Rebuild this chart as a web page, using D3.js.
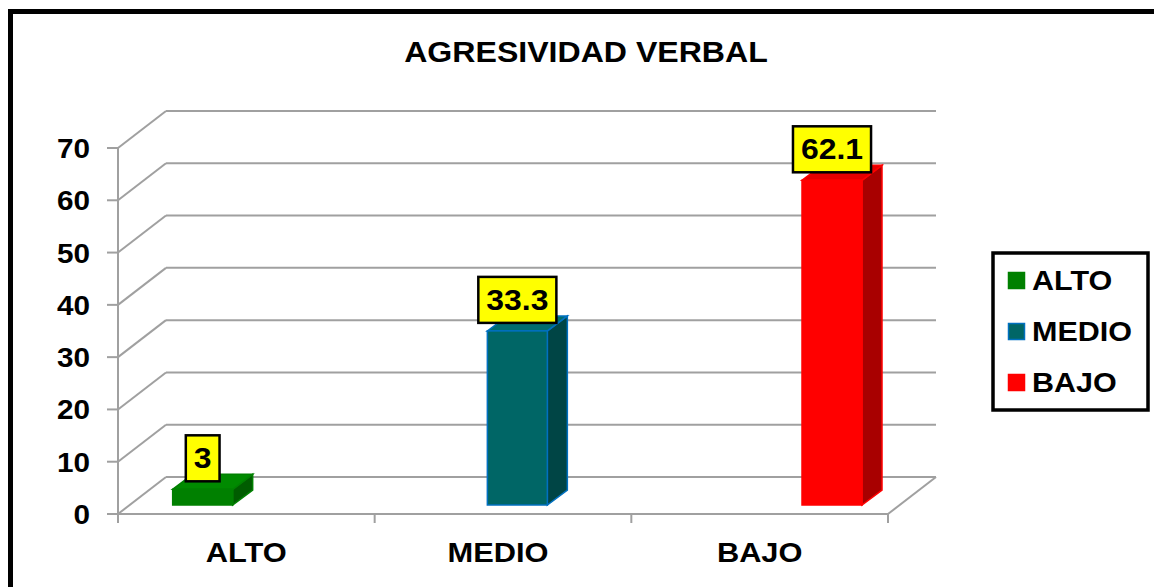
<!DOCTYPE html>
<html>
<head>
<meta charset="utf-8">
<script src="https://cdn.jsdelivr.net/npm/d3@7"></script>
<style>
  body { margin: 0; background: #fff; }
  text { font-family: Arial, "Liberation Sans", sans-serif; font-weight: bold; fill: #000; }
</style>
</head>
<body>
<svg id="chart" width="1154" height="587"></svg>
<script>
// data
const categories = ["ALTO", "MEDIO", "BAJO"];
const values = [3, 33.3, 62.1];
const yTicks = [0, 10, 20, 30, 40, 50, 60, 70];
const title = "AGRESIVIDAD VERBAL";

const frontCol = { ALTO: "#008000", MEDIO: "#006666", BAJO: "#ff0000" },
      sideCol  = { ALTO: "#005c00", MEDIO: "#004545", BAJO: "#a80000" },
      topCol   = { ALTO: "#008a00", MEDIO: "#006d6d", BAJO: "#e60000" },
      edgeCol  = { ALTO: "#008000", MEDIO: "#0070c0", BAJO: "#ff0000" };

const svg = d3.select("#chart");

// text in the picture is a bit wide, so stretch it a little
function txt(g, x, y, s, size, anchor, sx) {
  sx = sx || 1.1;
  return g.append("text")
    .attr("transform", "translate(" + x + "," + y + ") scale(" + sx + ",1)")
    .attr("text-anchor", anchor || "middle")
    .attr("font-size", size)
    .text(s);
}

// outer frame (runs off right / bottom)
svg.append("rect").attr("x", 10.5).attr("y", 11.5)
  .attr("width", 1300).attr("height", 800)
  .attr("fill", "#fff").attr("stroke", "#000").attr("stroke-width", 5);

txt(svg, 586, 62, title, 30, "middle", 1.07);

// 3d geometry
const dx = 48, dy = -37;
const y = d3.scaleLinear().domain([0, 70]).range([514, 148]);
const x0 = d3.scaleBand().domain(categories).range([118, 888]);
const x1 = d3.scaleBand().domain(categories).range([43, 217]);

const grid = svg.append("g").attr("stroke", "#a0a0a0").attr("stroke-width", 2).attr("fill", "none");
yTicks.forEach(t => {
  grid.append("line").attr("x1", 118).attr("y1", y(t)).attr("x2", 118 + dx).attr("y2", y(t) + dy);
  grid.append("line").attr("x1", 118 + dx).attr("y1", y(t) + dy).attr("x2", 888 + dx).attr("y2", y(t) + dy);
  grid.append("line").attr("x1", 107).attr("y1", y(t)).attr("x2", 118).attr("y2", y(t));
});
grid.append("line").attr("x1", 118).attr("y1", y(0)).attr("x2", 118).attr("y2", y(70));
grid.append("line").attr("x1", 118).attr("y1", y(0)).attr("x2", 888).attr("y2", y(0));
grid.append("line").attr("x1", 888).attr("y1", y(0)).attr("x2", 888 + dx).attr("y2", y(0) + dy);
x0.domain().concat([null]).forEach((c, i) => {
  const xx = 118 + i * x0.step();
  grid.append("line").attr("x1", xx).attr("y1", y(0)).attr("x2", xx).attr("y2", y(0) + 9);
});

// y labels
yTicks.forEach(t => txt(svg, 90, y(t) + 10, t, 27, "end"));
// x labels
categories.forEach((c, i) => txt(svg, x0(c) + x0.bandwidth() / 2 - (i == 1 ? 5 : 0), 562, c, 28));

// bars
const f0 = 9 / 37, bdx = 20, bdy = -15;
const bw = x1.bandwidth() + 2;
const bars = svg.append("g");
categories.forEach((c, i) => {
  const xl = x0(c) + x1(c) + f0 * dx, yb = y(0) - f0 * -dy, yt = y(values[i]) - f0 * -dy;
  const g = bars.append("g");
  g.append("polygon")
    .attr("points", [[xl + bw, yt], [xl + bw + bdx, yt + bdy], [xl + bw + bdx, yb + bdy], [xl + bw, yb]].join(" "))
    .attr("fill", sideCol[c]).attr("stroke", edgeCol[c]).attr("stroke-width", 1.5);
  g.append("polygon")
    .attr("points", [[xl, yt], [xl + bw, yt], [xl + bw + bdx, yt + bdy], [xl + bdx, yt + bdy]].join(" "))
    .attr("fill", topCol[c]).attr("stroke", edgeCol[c]).attr("stroke-width", 1.5);
  g.append("rect").attr("x", xl).attr("y", yt).attr("width", bw).attr("height", yb - yt)
    .attr("fill", frontCol[c]).attr("stroke", edgeCol[c]).attr("stroke-width", 1.5);

  // value label
  const cx = xl + bw / 2, bot = yt - 8;
  const lab = svg.append("g");
  const box = lab.append("rect");
  const t = txt(lab, cx, bot - 13, values[i], 29);
  const w = t.node().getComputedTextLength() * 1.1 + 16;
  box.attr("x", cx - w / 2).attr("y", bot - 46).attr("width", w).attr("height", 46)
    .attr("fill", "#ffff00").attr("stroke", "#000").attr("stroke-width", 2.5);
});

// legend
const leg = svg.append("g");
leg.append("rect").attr("x", 993).attr("y", 253).attr("width", 155).attr("height", 157)
  .attr("fill", "#fff").attr("stroke", "#000").attr("stroke-width", 3.5);
categories.forEach((c, i) => {
  const by = 290 + i * 51;
  leg.append("rect").attr("x", 1008.5).attr("y", by - 17.5).attr("width", 16).attr("height", 16)
    .attr("fill", frontCol[c]).attr("stroke", edgeCol[c]).attr("stroke-width", 1.5);
  txt(leg, 1032, by, c, 27, "start", 1.13);
});
</script>
</body>
</html>
